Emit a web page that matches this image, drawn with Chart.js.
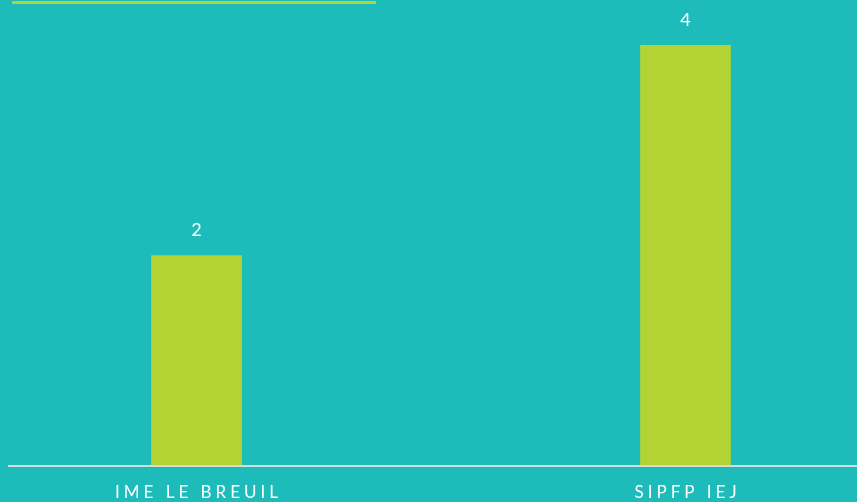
<!DOCTYPE html>
<html lang="fr">
<head>
  <meta charset="UTF-8">
  <title>Orientations</title>
  <script src="https://cdn.jsdelivr.net/npm/chart.js@4.4.0/dist/chart.umd.min.js"></script>
</head>
<body>
  <style>
    html, body { margin: 0; padding: 0; width: 857px; height: 502px; overflow: hidden; background: #1DBCBA; }
    #wrap { position: absolute; left: -48px; top: 0; width: 978px; height: 502px; }
    #underline { position: absolute; left: 12px; top: 1px; width: 364px; height: 3px; background: #B3D335; }
  </style>
  <div id="underline"></div>
  <div id="wrap"><canvas id="myChart"></canvas></div>
  <script>
    const categories = ['IME LE BREUIL', 'SIPFP IEJ'];
    const values = [2, 4];

    // value labels above bars + spaced category labels + axis line
    const decorations = {
      id: 'decorations',
      afterDatasetsDraw(chart) {
        const ctx = chart.ctx;
        const meta = chart.getDatasetMeta(0);
        const area = chart.chartArea;
        ctx.save();
        ctx.strokeStyle = '#D9D9D9';
        ctx.lineWidth = 2;
        ctx.beginPath();
        ctx.moveTo(56, area.bottom);
        ctx.lineTo(chart.width, area.bottom);
        ctx.stroke();

        ctx.fillStyle = '#ffffff';
        ctx.textAlign = 'center';
        ctx.textBaseline = 'middle';
        meta.data.forEach((bar, i) => {
          ctx.font = '18px Lato';
          ctx.letterSpacing = '0px';
          ctx.fillText(values[i], bar.x, bar.y - 25);
          ctx.font = '17px Lato';
          ctx.letterSpacing = '4px';
          ctx.fillText(categories[i], bar.x + 2, area.bottom + 27);
        });
        ctx.restore();
      }
    };

    new Chart(document.getElementById('myChart'), {
      type: 'bar',
      data: {
        labels: categories,
        datasets: [{
          data: values,
          backgroundColor: '#B3D335',
          barThickness: 90
        }]
      },
      options: {
        responsive: true,
        maintainAspectRatio: false,
        animation: false,
        layout: { padding: { top: 45, bottom: 36, left: 0, right: 0 } },
        plugins: { legend: { display: false }, tooltip: { enabled: false } },
        scales: {
          x: { display: false },
          y: { display: false, min: 0, max: 4 }
        }
      },
      plugins: [decorations]
    });
  </script>
</body>
</html>
